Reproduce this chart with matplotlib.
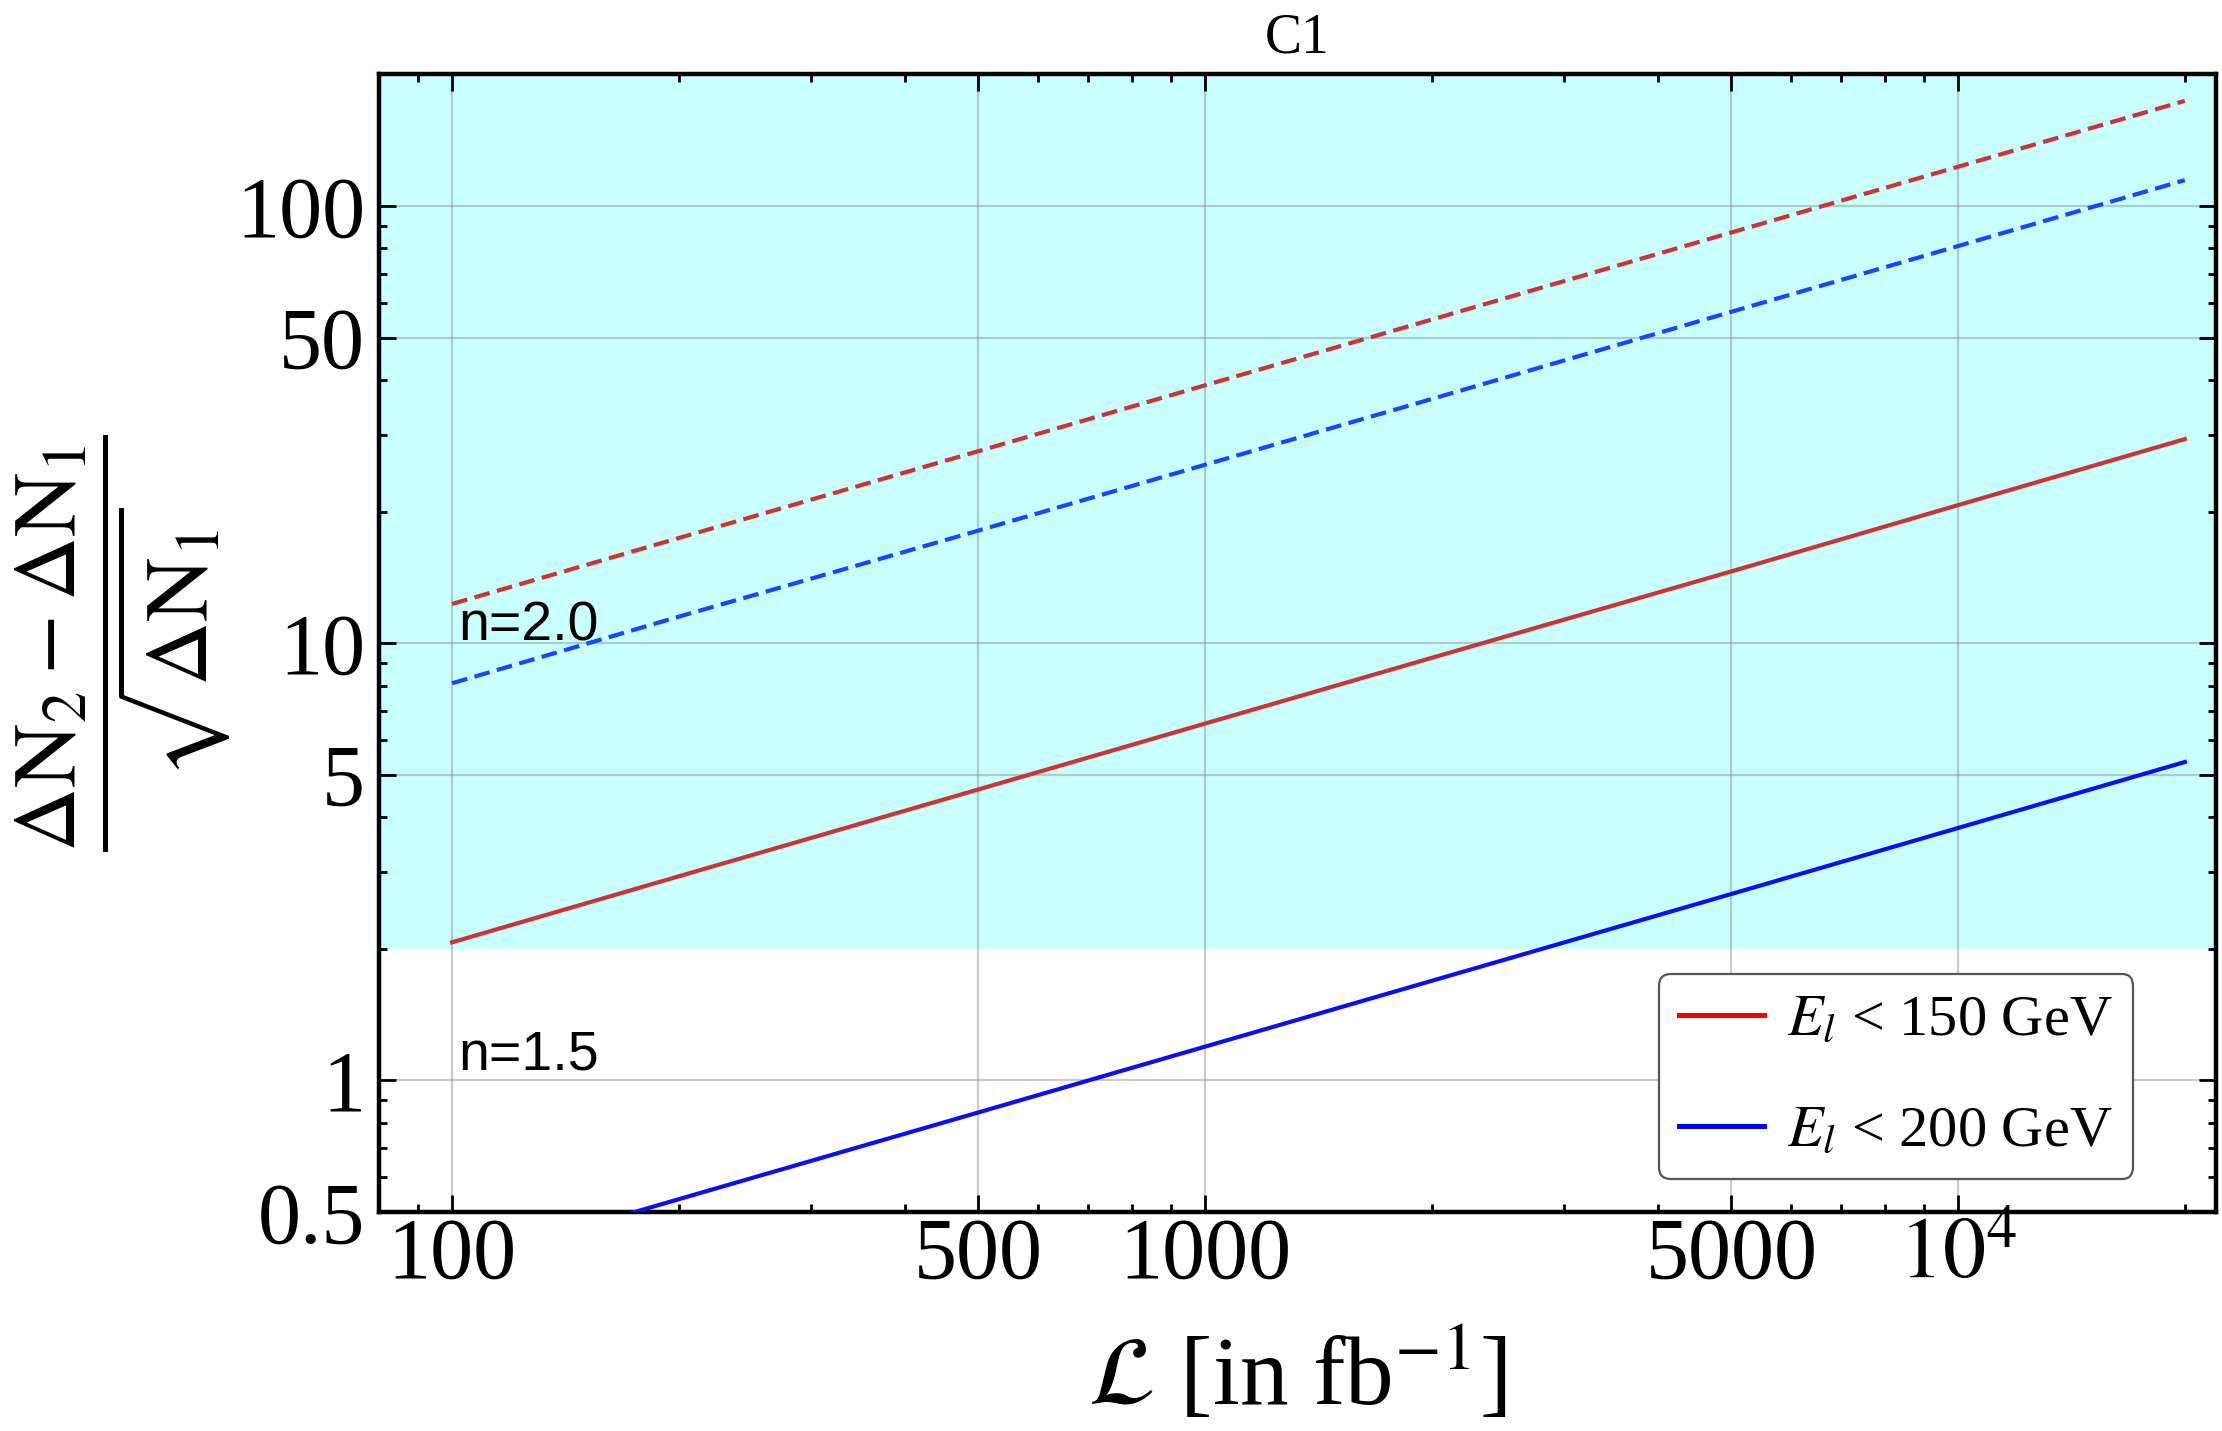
import numpy as np
import matplotlib.pyplot as plt
from matplotlib.ticker import FixedLocator, LogLocator, NullFormatter

plt.rcParams['font.family'] = ['Liberation Serif', 'DejaVu Serif']
plt.rcParams['mathtext.fontset'] = 'stix'

# luminosity values (fb^-1)
lumi = [100, 200, 500, 1000, 2000, 5000, 10000, 20000]

# n = 2.0 (dashed)
red_n20 = [12.3, 17.4, 27.5, 38.9, 55.0, 87.0, 123.0, 174.0]
blue_n20 = [8.1, 11.5, 18.1, 25.6, 36.2, 57.3, 81.0, 114.6]
# n = 1.5 (solid)
red_n15 = [2.07, 2.93, 4.63, 6.55, 9.26, 14.6, 20.7, 29.3]
blue_n15 = [0.378, 0.535, 0.845, 1.195, 1.69, 2.67, 3.78, 5.35]

threshold = 2.0
xticks = [100, 500, 1000, 5000, 10000]
xticklabels = ['100', '500', '1000', '5000', r'$10^4$']
yticks = [0.5, 1, 5, 10, 50, 100]
yticklabels = ['0.5', '1', '5', '10', '50', '100']

fig = plt.figure(figsize=(11.11, 7.155), dpi=200)
ax = fig.add_axes([0.1706, 0.153, 0.8267, 0.795])

ax.set_xscale('log')
ax.set_yscale('log')
ax.set_xlim(80, 22000)
ax.set_ylim(0.5, 200)

# shaded region above threshold
ax.axhspan(threshold, 200, color='#caffff', zorder=0, lw=0)

dash = (3.8, 1.8)
ax.plot(lumi, red_n20, color='#cc3333', lw=1.5, dashes=dash, zorder=3)
ax.plot(lumi, blue_n20, color='#1a44ff', lw=1.5, dashes=dash, zorder=3)
ax.plot(lumi, red_n15, color='#cc3333', lw=1.5, zorder=3)
ax.plot(lumi, blue_n15, color='#0a10f0', lw=1.5, zorder=3)

# legend handles
ax.plot([], [], color='#ff0000', lw=1.8, label=r'$E_l$ < 150 GeV')
ax.plot([], [], color='#0000ff', lw=1.8, label=r'$E_l$ < 200 GeV')

for xv in xticks:
    ax.axvline(xv, color='#808080', alpha=0.4, lw=0.8, zorder=1)
for yv in yticks[1:]:
    ax.axhline(yv, color='#808080', alpha=0.4, lw=0.8, zorder=1)

ax.text(102, 10.9, 'n=2.0', family=['Liberation Sans', 'DejaVu Sans'],
        fontsize=20, va='center', ha='left', zorder=4)
ax.text(102, 1.14, 'n=1.5', family=['Liberation Sans', 'DejaVu Sans'],
        fontsize=20, va='center', ha='left', zorder=4)

ax.xaxis.set_major_locator(FixedLocator(xticks))
ax.set_xticklabels(xticklabels)
ax.xaxis.set_minor_locator(LogLocator(base=10, subs=np.arange(2, 10)))
ax.xaxis.set_minor_formatter(NullFormatter())
ax.yaxis.set_major_locator(FixedLocator(yticks))
ax.set_yticklabels(yticklabels)
ax.yaxis.set_minor_locator(LogLocator(base=10, subs=np.arange(2, 10)))
ax.yaxis.set_minor_formatter(NullFormatter())

ax.tick_params(which='both', direction='in', top=True, right=True, width=1.0)
ax.tick_params(which='major', length=6, labelsize=31)
ax.tick_params(axis='x', which='major', pad=2)
ax.tick_params(axis='y', which='major', pad=5)
ax.tick_params(which='minor', length=3)
for s in ax.spines.values():
    s.set_linewidth(1.6)

ax.set_xlabel(r'$\mathcal{L}$ [in fb$^{-1}$]', fontsize=35, labelpad=11)
ax.set_ylabel(r'$\dfrac{\Delta \mathrm{N}_2 - \Delta \mathrm{N}_1}{\sqrt{\Delta \mathrm{N}_1}}$',
              fontsize=32)
ax.yaxis.set_label_coords(-0.08, 0.5)
ax.set_title('C1', fontsize=20, pad=8)

leg = ax.legend(loc='lower right', bbox_to_anchor=(0.955, 0.029), fontsize=21,
                frameon=True, fancybox=True, edgecolor='#555555', framealpha=1,
                handlelength=1.45, handletextpad=0.4, labelspacing=1.0,
                borderpad=0.35, borderaxespad=0)
leg.get_frame().set_linewidth(0.8)

fig.savefig('out.png', dpi=200)
